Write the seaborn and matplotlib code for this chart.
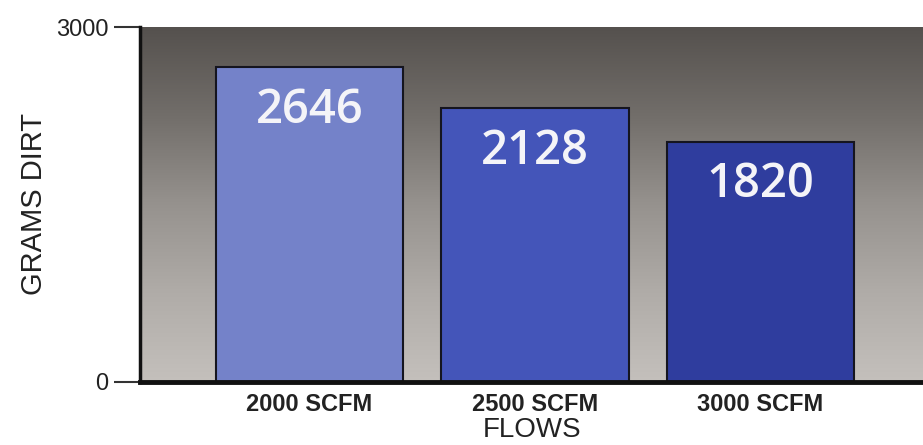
import matplotlib
matplotlib.use("Agg")
import matplotlib.pyplot as plt
import seaborn as sns
import numpy as np
import pandas as pd

# Datos
flows = ["2000 SCFM", "2500 SCFM", "3000 SCFM"]
value_labels = ["2646", "2128", "1820"]
bar_heights = [2660, 2315, 2030]  # altura dibujada de cada barra
bar_colors = ["#7482c9", "#4455b9", "#2f3d9e"]
y_ticks = [0, 3000]

df = pd.DataFrame({"flow": flows, "grams": bar_heights})

sns.set_style("white")
plt.rcParams["font.family"] = ["Liberation Sans", "DejaVu Sans"]

fig = plt.figure(figsize=(9.23, 4.45), dpi=100)
ax = fig.add_axes([0.152, 0.142, 0.848, 0.797])

# Fondo en degradado gris (oscuro arriba, claro abajo)
grad = np.linspace(0, 1, 256).reshape(-1, 1)
bg_cmap = matplotlib.colors.LinearSegmentedColormap.from_list(
    "bg", ["#c4c0bc", "#b0aca8", "#96928e", "#726e6a", "#55514e"])
ax.imshow(grad, cmap=bg_cmap, extent=[-0.75, 2.72, 0, 3000],
          aspect="auto", origin="lower", zorder=0)

sns.barplot(data=df, x="flow", y="grams", hue="flow", palette=bar_colors,
            width=0.83, edgecolor="#15151f", linewidth=1.5, legend=False,
            saturation=1, ax=ax, zorder=2)
ax.set_xlim(-0.75, 2.72)
ax.set_ylim(0, 3000)

for i, (h, lab) in enumerate(zip(bar_heights, value_labels)):
    ax.annotate(lab, (i, h), xytext=(0, -31), textcoords="offset points",
                ha="center", va="center", color="#f4f4f8", fontsize=34,
                fontweight="semibold", family=["Open Sans", "DejaVu Sans"],
                zorder=3)

for s in ["top", "right"]:
    ax.spines[s].set_visible(False)
ax.spines["left"].set_linewidth(2.5)
ax.spines["bottom"].set_linewidth(3.5)
ax.spines["left"].set_color("#111111")
ax.spines["bottom"].set_color("#111111")

ax.set_yticks(y_ticks)
ax.set_yticklabels([str(t) for t in y_ticks], fontsize=17, color="#222222")
ax.tick_params(axis="y", length=19, width=1.5, color="#333333", pad=4, left=True)
ax.tick_params(axis="x", length=0, pad=8, labelsize=17)
for t in ax.get_xticklabels():
    t.set_fontweight("bold")
    t.set_color("#222222")

ax.set_xlabel("FLOWS", fontsize=20, color="#222222", labelpad=1)
ax.set_ylabel("GRAMS DIRT", fontsize=21, color="#222222", labelpad=6)

fig.savefig("out.png", dpi=100)
